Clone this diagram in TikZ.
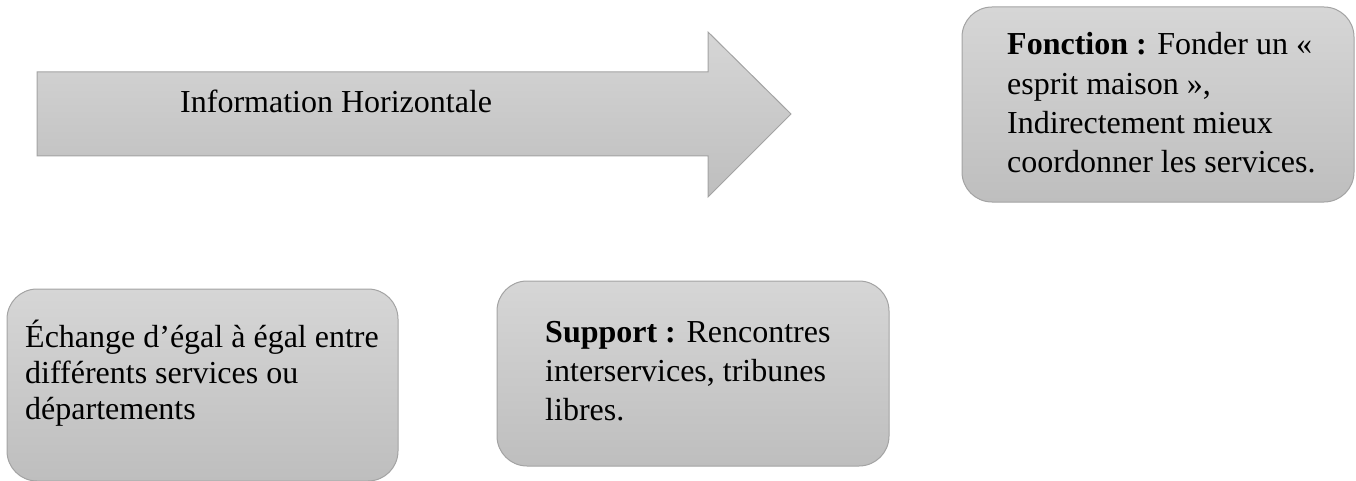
\documentclass[tikz,border=0pt]{standalone}
\usepackage{fontspec}
\setmainfont{Liberation Serif}
\definecolor{gtop}{HTML}{D6D6D6}
\definecolor{gbot}{HTML}{BEBEBE}
\definecolor{gline}{HTML}{A3A3A3}
\begin{document}
\begin{tikzpicture}[x=1pt,y=-1pt,
  shapefill/.style={top color=gtop,bottom color=gbot,draw=gline,line width=1pt},
  rbox/.style={shapefill,rounded corners=30pt},
  txt/.style={anchor=base west,inner sep=0pt,font=\fontsize{32}{36}\selectfont}]
\useasboundingbox (0,0) rectangle (1356,481);
% arrow
\shade[shapefill] (37,72) -- (708,72) -- (708,32) -- (791,114) -- (708,197) -- (708,156) -- (37,156) -- cycle;
\node[txt] (info) at (180,113) {Information Horizontale};
% boxes
\shade[rbox] (962,7) rectangle (1354,202);
\shade[rbox] (7,289) rectangle (398,481);
\shade[rbox] (497,281) rectangle (889,466);
\node[txt] (fonction) at (1007,55) {\renewcommand\arraystretch{1.085}\begin{tabular}[t]{@{}l@{}}\textbf{Fonction :} Fonder un «\\esprit maison »,\\Indirectement mieux\\coordonner les services.\end{tabular}};
\node[txt] (echange) at (25,347) {\begin{tabular}[t]{@{}l@{}}Échange d’égal à égal entre\\différents services ou\\départements\end{tabular}};
\node[txt] (support) at (545,342) {\renewcommand\arraystretch{1.085}\begin{tabular}[t]{@{}l@{}}\textbf{Support :} Rencontres\\interservices, tribunes\\libres.\end{tabular}};
\end{tikzpicture}
\end{document}
